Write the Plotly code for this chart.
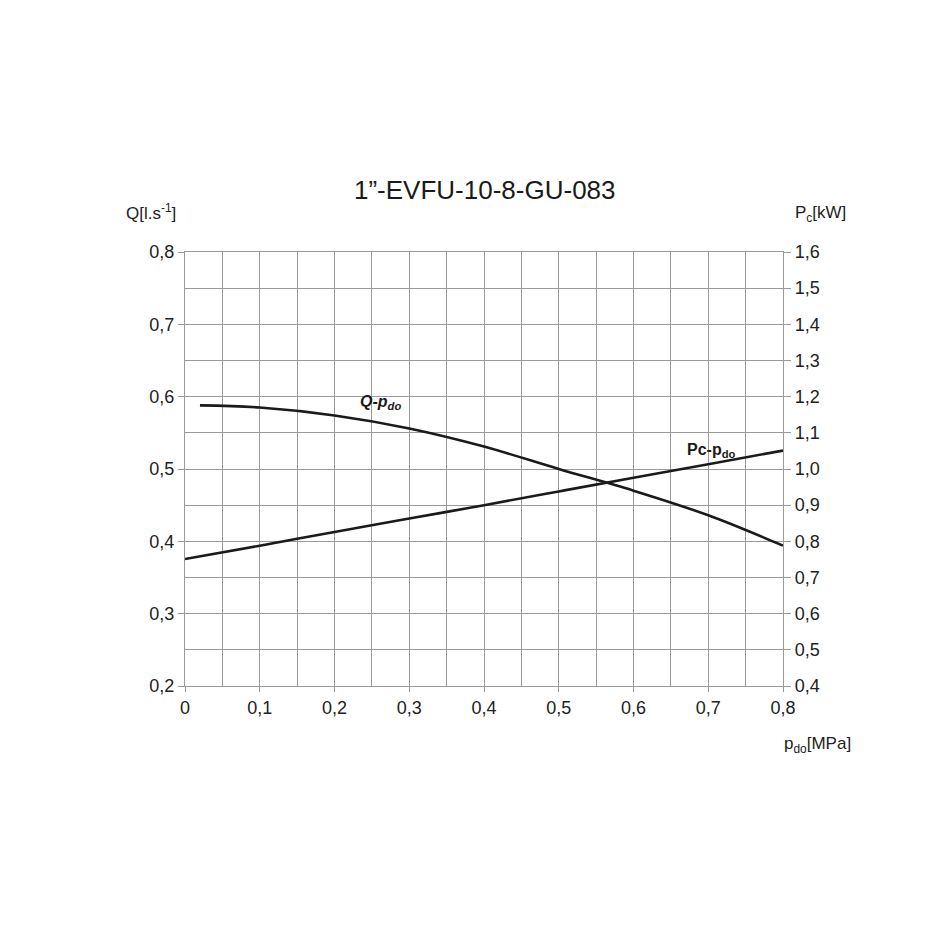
import plotly.graph_objects as go

# Data
p_do_q = [0.02, 0.1, 0.2, 0.3, 0.4, 0.5, 0.6, 0.7, 0.8]
q_vals = [0.588, 0.585, 0.574, 0.556, 0.531, 0.500, 0.470, 0.436, 0.394]

p_do_pc = [0.0, 0.1, 0.2, 0.3, 0.4, 0.5, 0.6, 0.7, 0.8]
pc_vals = [0.751, 0.788, 0.826, 0.863, 0.900, 0.938, 0.976, 1.013, 1.051]

x_ticks = [0, 0.1, 0.2, 0.3, 0.4, 0.5, 0.6, 0.7, 0.8]
x_labels = ["0", "0,1", "0,2", "0,3", "0,4", "0,5", "0,6", "0,7", "0,8"]
q_ticks = [0.2, 0.3, 0.4, 0.5, 0.6, 0.7, 0.8]
q_labels = ["0,2", "0,3", "0,4", "0,5", "0,6", "0,7", "0,8"]
pc_ticks = [0.4, 0.5, 0.6, 0.7, 0.8, 0.9, 1.0, 1.1, 1.2, 1.3, 1.4, 1.5, 1.6]
pc_labels = ["0,4", "0,5", "0,6", "0,7", "0,8", "0,9", "1,0", "1,1", "1,2", "1,3", "1,4", "1,5", "1,6"]

title_text = "1\u201d-EVFU-10-8-GU-083"

FONT = "Liberation Sans, Arial, sans-serif"
TXT = "#222222"
GRID = "#9a9a9a"

# plot area in page pixels (reference): x 185..783, y 252..686
PX0, PX1, PY0, PY1 = 185, 783, 252, 686


def px(xp):
    return (xp - PX0) / (PX1 - PX0)


def py(yp):
    return (PY1 - yp) / (PY1 - PY0)


fig = go.Figure()
fig.add_trace(go.Scatter(x=p_do_q, y=q_vals, mode="lines", yaxis="y",
                         line=dict(color="#1a1a1a", width=2.6, shape="spline"),
                         showlegend=False, hoverinfo="skip"))
fig.add_trace(go.Scatter(x=p_do_pc, y=pc_vals, mode="lines", yaxis="y2",
                         line=dict(color="#1a1a1a", width=2.6, shape="spline"),
                         showlegend=False, hoverinfo="skip"))

tickfont = dict(family=FONT, size=18, color=TXT)

# page body has an 8px default margin, so shift the figure margins
fig.update_layout(
    width=930, height=930,
    paper_bgcolor="white", plot_bgcolor="white",
    margin=dict(l=PX0 - 8, r=930 - (PX1 - 8), t=PY0 - 8, b=930 - (PY1 - 8)),
    font=dict(family=FONT, color=TXT),
    xaxis=dict(range=[0, 0.8], tickvals=x_ticks, ticktext=x_labels,
               tickfont=tickfont, showgrid=True, gridcolor=GRID, gridwidth=1.4,
               minor=dict(dtick=0.05, showgrid=True, gridcolor=GRID, gridwidth=1.4),
               ticks="outside", ticklen=5, tickcolor=GRID, tickwidth=1.4,
               showline=True, linecolor=GRID, linewidth=1.4, mirror=True,
               zeroline=False),
    yaxis=dict(range=[0.2, 0.8], tickvals=q_ticks, ticktext=q_labels,
               tickfont=tickfont, showgrid=True, gridcolor=GRID, gridwidth=1.4,
               minor=dict(dtick=0.05, showgrid=True, gridcolor=GRID, gridwidth=1.4),
               ticks="outside", ticklen=6, tickcolor=GRID, tickwidth=1.4,
               showline=True, linecolor=GRID, linewidth=1.4,
               zeroline=False),
    yaxis2=dict(range=[0.4, 1.6], tickvals=pc_ticks, ticktext=pc_labels,
                tickfont=tickfont, overlaying="y", side="right",
                showgrid=False, ticks="outside", ticklen=7, tickcolor=GRID,
                tickwidth=1.4, showline=True, linecolor=GRID, linewidth=1.4,
                zeroline=False),
    annotations=[
        dict(text=title_text, xref="paper", yref="paper",
             x=px(485), y=py(190), xanchor="center", yanchor="middle", showarrow=False,
             font=dict(family=FONT, size=26, color="#1a1a1a")),
        dict(text="Q[l.s<sup>-1</sup>]", xref="paper", yref="paper",
             x=px(151), y=py(212), xanchor="center", yanchor="middle", showarrow=False,
             font=dict(family=FONT, size=17, color=TXT)),
        dict(text="P<sub>c</sub>[kW]", xref="paper", yref="paper",
             x=px(820), y=py(214), xanchor="center", yanchor="middle", showarrow=False,
             font=dict(family=FONT, size=17, color=TXT)),
        dict(text="p<sub>do</sub>[MPa]", xref="paper", yref="paper",
             x=px(817), y=py(745), xanchor="center", yanchor="middle", showarrow=False,
             font=dict(family=FONT, size=17, color=TXT)),
        dict(text="<b><i>Q-p<sub>do</sub></i></b>", xref="x", yref="y",
             x=0.262, y=0.592, xanchor="center", yanchor="middle", showarrow=False,
             font=dict(family=FONT, size=16, color="#1a1a1a")),
        dict(text="<b>Pc-p<sub>do</sub></b>", xref="x", yref="y",
             x=0.705, y=0.526, xanchor="center", yanchor="middle", showarrow=False,
             font=dict(family=FONT, size=16, color="#1a1a1a")),
    ],
)

fig.write_html("out.html")
